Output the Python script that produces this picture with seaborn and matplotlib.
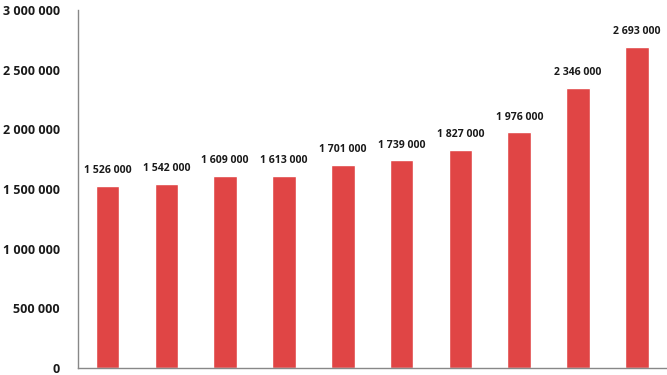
import pandas as pd
import seaborn as sns
import matplotlib.pyplot as plt
from matplotlib.ticker import FuncFormatter, FixedLocator

# Bar categories (no labels shown on the chart) and values
categories = ['c1', 'c2', 'c3', 'c4', 'c5', 'c6', 'c7', 'c8', 'c9', 'c10']
values = [1526000, 1542000, 1609000, 1613000, 1701000,
          1739000, 1827000, 1976000, 2346000, 2693000]
yticks = [0, 500000, 1000000, 1500000, 2000000, 2500000, 3000000]

df = pd.DataFrame({'category': categories, 'value': values})

sns.set_style('white')
plt.rcParams['font.family'] = ['Open Sans', 'DejaVu Sans']

def fmt(v):
    return f'{int(v):,}'.replace(',', ' ')

fig = plt.figure(figsize=(6.67, 3.75), dpi=100)
ax = fig.add_axes([0.117, 0.019, 0.882, 0.954])

sns.barplot(data=df, x='category', y='value', color='#E04545', width=0.4,
            saturation=1, ax=ax)

# Value labels on top of the bars
ax.bar_label(ax.containers[0], labels=[fmt(v) for v in values], padding=7,
             fontsize=7.6, fontweight='bold', color='#1a1a1a')

ax.set_ylim(0, 3000000)
ax.set_xlim(-0.5, len(categories) - 0.5)
ax.set_yticks(yticks)
ax.yaxis.set_major_formatter(FuncFormatter(lambda v, p: fmt(v)))
for lab in ax.get_yticklabels():
    lab.set_fontweight('bold')
    lab.set_fontsize(9)
    lab.set_color('#1a1a1a')

# X ticks at category boundaries, no labels
ax.xaxis.set_major_locator(FixedLocator([i - 0.5 for i in range(len(categories) + 1)]))
ax.set_xticklabels([])
ax.tick_params(axis='both', direction='out', length=3, width=0.8, color='#888888')
ax.tick_params(axis='y', pad=10)

ax.set_xlabel('')
ax.set_ylabel('')
sns.despine(ax=ax)
for side in ['left', 'bottom']:
    ax.spines[side].set_color('#888888')
    ax.spines[side].set_linewidth(1)

fig.savefig('out.png', dpi=100)
